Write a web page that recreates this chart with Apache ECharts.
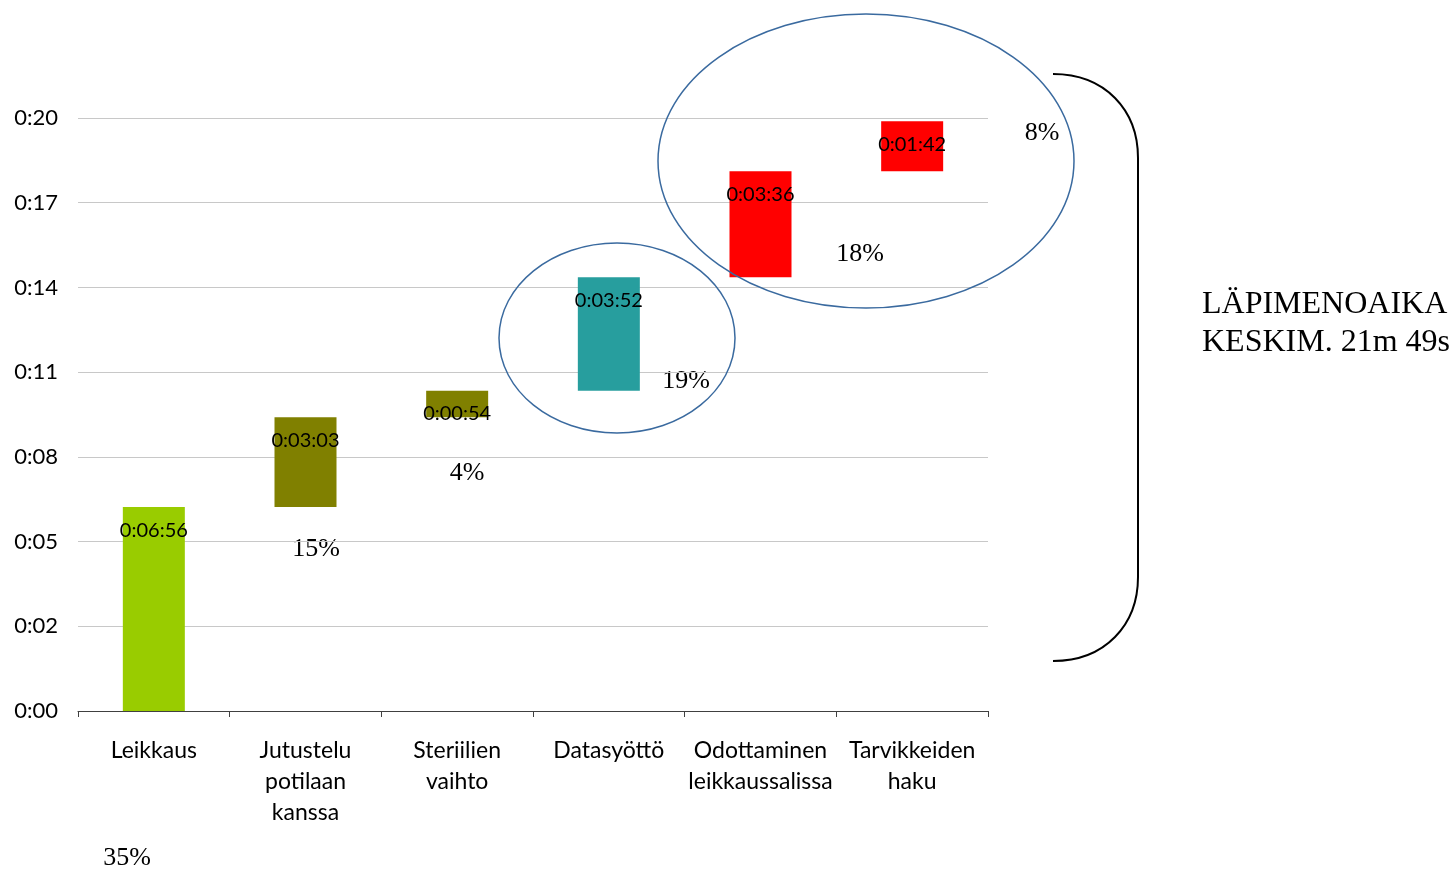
<!DOCTYPE html>
<html>
<head>
<meta charset="utf-8">
<script src="https://cdn.jsdelivr.net/npm/echarts@6/dist/echarts.min.js"></script>
<style>
html,body{margin:0;padding:0;background:#fff;}
#chart{width:1454px;height:869px;}
</style>
</head>
<body>
<div id="chart"></div>
<script>
// Categories (x axis)
const categories = ['Leikkaus', 'Jutustelu\npotilaan\nkanssa', 'Steriilien\nvaihto', 'Datasyöttö', 'Odottaminen\nleikkaussalissa', 'Tarvikkeiden\nhaku'];
// Durations in seconds (0:06:56, 0:03:03, 0:00:54, 0:03:52, 0:03:36, 0:01:42)
const durations = [416, 183, 54, 232, 216, 102];
// Bar colours
const barColors = ['#99CC00', '#808000', '#808000', '#279E9E', '#FF0000', '#FF0000'];
// Share annotations
const shares = ['35%', '15%', '4%', '19%', '18%', '8%'];
// Y axis: Excel time axis, step 0.002 day = 172.8 s
const yStep = 172.8;
const yMax = 1209.6;
const summaryText = ['LÄPIMENOAIKA', 'KESKIM. 21m 49s'];

const bases = [];
let acc = 0;
durations.forEach(d => { bases.push(acc); acc += d; });

function pad(n) { return (n < 10 ? '0' : '') + n; }
function hms(s) {
  const h = Math.floor(s / 3600), m = Math.floor((s % 3600) / 60), sec = Math.round(s % 60);
  return h + ':' + pad(m) + ':' + pad(sec);
}

const sansFont = 'Lato, "Open Sans", sans-serif';
const serifFont = '"Liberation Serif", "DejaVu Serif", serif';

// annotation positions (layout only)
const sharePos = [[127, 858], [316, 549], [467, 473], [686, 381], [860, 254], [1042, 133]];

const chart = echarts.init(document.getElementById('chart'), null, {renderer: 'canvas'});
const graphics = [];
shares.forEach((t, i) => {
  graphics.push({
    type: 'text', x: sharePos[i][0], y: sharePos[i][1],
    style: {text: t, fill: '#000', font: '26px ' + serifFont, textAlign: 'center', textVerticalAlign: 'middle'}
  });
});
graphics.push({
  type: 'ellipse', shape: {cx: 617, cy: 338, rx: 118, ry: 95},
  style: {fill: 'none', stroke: '#3A6A9F', lineWidth: 1.5}, z: 10
});
graphics.push({
  type: 'ellipse', shape: {cx: 866, cy: 161, rx: 208, ry: 147},
  style: {fill: 'none', stroke: '#3A6A9F', lineWidth: 1.5}, z: 10
});
// right brace
graphics.push({
  type: 'bezierCurve', shape: {x1: 1053, y1: 74, cpx1: 1105, cpy1: 74, cpx2: 1138, cpy2: 110, x2: 1138, y2: 158},
  style: {stroke: '#000', lineWidth: 2, fill: 'none'}
});
graphics.push({
  type: 'line', shape: {x1: 1138, y1: 158, x2: 1138, y2: 577},
  style: {stroke: '#000', lineWidth: 2}
});
graphics.push({
  type: 'bezierCurve', shape: {x1: 1138, y1: 577, cpx1: 1138, cpy1: 625, cpx2: 1105, cpy2: 661, x2: 1053, y2: 661},
  style: {stroke: '#000', lineWidth: 2, fill: 'none'}
});
graphics.push({
  type: 'text', x: 1202, y: 305,
  style: {text: summaryText[0], fill: '#000', font: '32px ' + serifFont, textAlign: 'left', textVerticalAlign: 'middle'}
});
graphics.push({
  type: 'text', x: 1202, y: 343,
  style: {text: summaryText[1], fill: '#000', font: '32px ' + serifFont, textAlign: 'left', textVerticalAlign: 'middle'}
});

const option = {
  animation: false,
  backgroundColor: '#fff',
  grid: {left: 78, right: 466, top: 118, bottom: 158, containLabel: false},
  xAxis: {
    type: 'category',
    data: categories,
    axisLine: {show: true, lineStyle: {color: '#404040', width: 1}},
    axisTick: {show: true, length: 6, lineStyle: {color: '#404040'}},
    axisLabel: {color: '#000', fontFamily: sansFont, fontSize: 23, lineHeight: 31, margin: 24, interval: 0},
    splitLine: {show: false}
  },
  yAxis: {
    type: 'value',
    min: 0, max: yMax, interval: yStep,
    axisLine: {show: false},
    axisTick: {show: false},
    axisLabel: {
      color: '#000', fontFamily: sansFont, fontSize: 22, margin: 20,
      formatter: v => '0:' + pad(Math.floor(v / 60 + 1e-6))
    },
    splitLine: {show: true, lineStyle: {color: '#C8C8C8', width: 1}}
  },
  series: [
    {
      name: 'base', type: 'bar', stack: 'w', barWidth: 62,
      itemStyle: {color: 'transparent'},
      emphasis: {disabled: true},
      data: bases
    },
    {
      name: 'kesto', type: 'bar', stack: 'w', barWidth: 62,
      data: durations.map((d, i) => ({value: d, itemStyle: {color: barColors[i]}})),
      label: {
        show: true, position: 'insideTop', distance: 13,
        color: '#000', fontFamily: sansFont, fontSize: 20,
        formatter: p => hms(p.value)
      }
    }
  ],
  graphic: graphics
};
chart.setOption(option);
</script>
</body>
</html>
